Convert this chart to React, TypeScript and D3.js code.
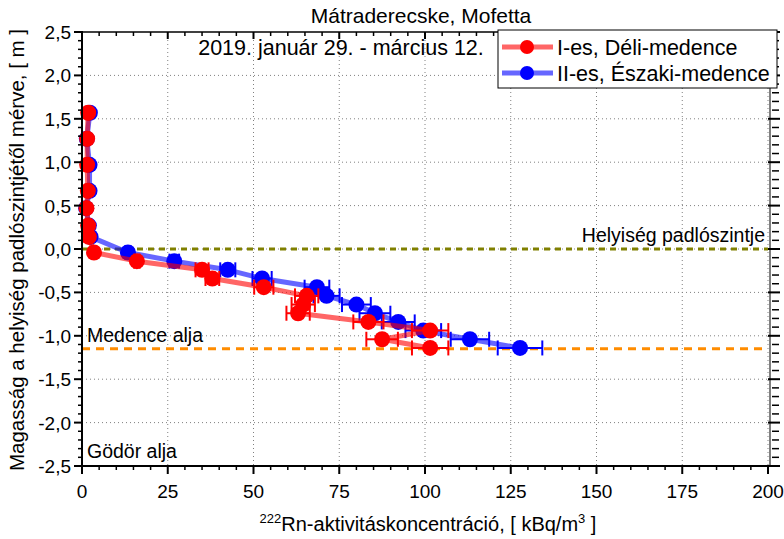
import React from 'react';
import * as d3 from 'd3';

// ---- data ----
const heightsI = [1.57, 1.27, 0.97, 0.67, 0.47, 0.27, 0.14, -0.04, -0.14, -0.24, -0.34, -0.44, -0.54, -0.64, -0.74, -0.84, -0.94, -1.04, -1.14];
const concI = [1.8, 1.5, 1.5, 1.7, 1.3, 1.8, 2.0, 3.5, 16, 35, 38, 53, 65.5, 64.5, 63, 83.5, 101.5, 87.5, 101.5];
const errI = [0.1, 0.1, 0.1, 0.1, 0.1, 0.1, 0.1, 0.2, 0.8, 1.9, 2.0, 2.8, 3.4, 3.4, 3.4, 4.4, 5.3, 4.6, 5.3];

const heightsII = [1.57, 1.27, 0.97, 0.67, 0.47, 0.27, 0.14, -0.04, -0.14, -0.24, -0.34, -0.44, -0.54, -0.64, -0.74, -0.84, -0.94, -1.04, -1.14];
const concII = [2.3, 1.4, 2.2, 2.2, 1.2, 2.0, 2.5, 13.4, 26.9, 42.5, 52.5, 68.5, 71.3, 80, 85.4, 92.2, 99.5, 113.1, 127.7];
const errII = [0.1, 0.1, 0.1, 0.1, 0.1, 0.1, 0.1, 0.7, 1.4, 2.2, 2.8, 3.6, 3.8, 4.2, 4.5, 4.8, 5.2, 5.6, 6.5];

const xTickValues = [0, 25, 50, 75, 100, 125, 150, 175, 200];
const yTickValues = [2.5, 2.0, 1.5, 1.0, 0.5, 0.0, -0.5, -1.0, -1.5, -2.0, -2.5];
const seriesNames = ['I-es, Déli-medence', 'II-es, Északi-medence'];
const floorLevel = 0;
const basinBottom = -1.15;

const FONT = '"Liberation Sans", Arial, sans-serif';

export default function App() {
  const W = 784, H = 539;
  const L = 82, R = 768, T = 32, B = 466;
  const x = d3.scaleLinear().domain([0, 200]).range([L, R]);
  const y = d3.scaleLinear().domain([-2.5, 2.5]).range([B, T]);

  const line = d3.line<[number, number]>().x(d => x(d[0])).y(d => y(d[1]));
  const ptsI: [number, number][] = concI.map((c, i) => [c, heightsI[i]]);
  const ptsII: [number, number][] = concII.map((c, i) => [c, heightsII[i]]);

  const xMinor = d3.range(0, 201, 5).filter(v => v % 25 !== 0);
  const yMinor = d3.range(-25, 26, 1).filter(v => v % 5 !== 0).map(v => v / 10);

  const fmtY = (v: number) => v.toFixed(1).replace('.', ',');

  const series = [
    { pts: ptsII, err: errII, color: '#0000FF', lineColor: 'rgba(0,0,255,0.6)' },
    { pts: ptsI, err: errI, color: '#FF0000', lineColor: 'rgba(255,0,0,0.6)' },
  ];

  const grid = '#808080';

  return (
    <svg width={W} height={H} style={{ position: 'absolute', left: 0, top: 0, background: '#fff' }} fontFamily={FONT}>
      <rect x={0} y={0} width={W} height={H} fill="#fff" />
      {/* grid */}
      {xTickValues.filter(v => v > 0).map(v => (
        <line key={'gx' + v} x1={x(v)} x2={x(v)} y1={T} y2={B} stroke={grid} strokeWidth={1} strokeDasharray="1,3" />
      ))}
      {yTickValues.filter(v => v > -2.5 && v < 2.5).map(v => (
        <line key={'gy' + v} x1={L} x2={R} y1={y(v)} y2={y(v)} stroke={grid} strokeWidth={1} strokeDasharray="1,3" />
      ))}

      {/* reference lines */}
      <line x1={L} x2={R} y1={y(floorLevel)} y2={y(floorLevel)} stroke="#808000" strokeWidth={3} strokeDasharray="6,5" />
      <line x1={L} x2={R} y1={y(basinBottom)} y2={y(basinBottom)} stroke="#FF8C00" strokeWidth={3} strokeDasharray="8,6" />

      <text x={765} y={242} fontSize={19.5} textAnchor="end" fill="#000">Helyiség padlószintje</text>
      <text x={87} y={342} fontSize={19.5} fill="#000">Medence alja</text>
      <text x={87} y={458} fontSize={19.5} fill="#000">Gödör alja</text>

      {/* series */}
      {series.map((s, si) => (
        <g key={'s' + si}>
          <path d={line(s.pts) || ''} fill="none" stroke={s.lineColor} strokeWidth={5} strokeLinejoin="round" />
          {s.pts.map((p, i) => {
            const x0 = x(p[0] - s.err[i]), x1 = x(p[0] + s.err[i]), yy = y(p[1]);
            return (
              <g key={'e' + i}>
                <line x1={x0} x2={x1} y1={yy} y2={yy} stroke={s.color} strokeWidth={2} />
                <line x1={x0} x2={x0} y1={yy - 7.5} y2={yy + 7.5} stroke={s.color} strokeWidth={2} />
                <line x1={x1} x2={x1} y1={yy - 7.5} y2={yy + 7.5} stroke={s.color} strokeWidth={2} />
              </g>
            );
          })}
          {s.pts.map((p, i) => (
            <circle key={'m' + i} cx={x(p[0])} cy={y(p[1])} r={8} fill={s.color} />
          ))}
        </g>
      ))}

      {/* axes frame */}
      <line x1={L} x2={L} y1={T} y2={B} stroke="#000" strokeWidth={2} />
      <line x1={L - 1} x2={R + 2} y1={B} y2={B} stroke="#000" strokeWidth={2} />
      <line x1={L - 1} x2={R + 2} y1={T} y2={T} stroke="#000" strokeWidth={1.5} />
      <line x1={R + 2} x2={R + 2} y1={T} y2={B} stroke="#000" strokeWidth={1} />

      {/* bottom ticks */}
      {xTickValues.map(v => (
        <line key={'bt' + v} x1={x(v)} x2={x(v)} y1={B} y2={B + 8} stroke="#000" strokeWidth={2} />
      ))}
      {xMinor.map(v => (
        <line key={'bm' + v} x1={x(v)} x2={x(v)} y1={B} y2={B + 4} stroke="#000" strokeWidth={1.5} />
      ))}
      {/* top ticks */}
      {xTickValues.map(v => (
        <line key={'tt' + v} x1={x(v)} x2={x(v)} y1={T} y2={T + 7} stroke="#000" strokeWidth={2} />
      ))}
      {xMinor.map(v => (
        <line key={'tm' + v} x1={x(v)} x2={x(v)} y1={T} y2={T + 4} stroke="#000" strokeWidth={1.5} />
      ))}
      {/* left ticks */}
      {yTickValues.map(v => (
        <line key={'lt' + v} x1={L - 8} x2={L + 1} y1={y(v)} y2={y(v)} stroke="#000" strokeWidth={2} />
      ))}
      {yMinor.map(v => (
        <line key={'lm' + v} x1={L - 4} x2={L} y1={y(v)} y2={y(v)} stroke="#000" strokeWidth={1.5} />
      ))}
      {/* right ticks */}
      {yTickValues.map(v => (
        <line key={'rt' + v} x1={R} x2={R + 12} y1={y(v)} y2={y(v)} stroke="#000" strokeWidth={2} />
      ))}
      {yMinor.map(v => (
        <line key={'rm' + v} x1={R + 4} x2={R + 11} y1={y(v)} y2={y(v)} stroke="#000" strokeWidth={1.5} />
      ))}

      {/* tick labels */}
      {xTickValues.map(v => (
        <text key={'xl' + v} x={x(v)} y={498} fontSize={19} textAnchor="middle" fill="#000">{String(v)}</text>
      ))}
      {yTickValues.map(v => (
        <text key={'yl' + v} x={71} y={y(v) + 7} fontSize={19} textAnchor="end" fill="#000">{fmtY(v)}</text>
      ))}

      {/* titles */}
      <text x={421} y={23} fontSize={21} textAnchor="middle" fill="#000">Mátraderecske, Mofetta</text>
      <text x={341} y={55} fontSize={21.5} textAnchor="middle" fill="#000">2019. január 29. - március 12.</text>
      <text x={428} y={531} fontSize={20} textAnchor="middle" fill="#000">
        <tspan fontSize={13} dy={-8}>222</tspan>
        <tspan dy={8}>Rn-aktivitáskoncentráció, [ kBq/m</tspan>
        <tspan fontSize={13} dy={-8}>3</tspan>
        <tspan dy={8}> ]</tspan>
      </text>
      <text transform={`translate(24,250) rotate(-90)`} fontSize={20.5} textAnchor="middle" fill="#000">
        Magasság a helyiség padlószintjétől mérve, [ m ]
      </text>

      {/* legend */}
      <g>
        <rect x={498} y={30} width={279} height={58} fill="#fff" stroke="#000" strokeWidth={1} />
        {[{ c: '#FF0000', lc: 'rgba(255,0,0,0.6)' }, { c: '#0000FF', lc: 'rgba(0,0,255,0.6)' }].map((s, i) => {
          const cy = 47 + i * 26;
          return (
            <g key={'lg' + i}>
              <line x1={502} x2={553} y1={cy} y2={cy} stroke={s.lc} strokeWidth={5} />
              <circle cx={527} cy={cy} r={7} fill={s.c} />
              <text x={557} y={cy + 7.5} fontSize={21.5} fill="#000">{seriesNames[i]}</text>
            </g>
          );
        })}
      </g>
    </svg>
  );
}
